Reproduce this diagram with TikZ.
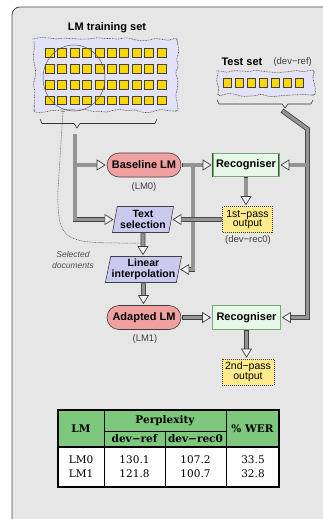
\documentclass[tikz,border=0pt]{standalone}
\usepackage{fontspec}
\setsansfont{Liberation Sans}
\newfontfamily\tabfont{DejaVu Serif}
\usepackage{tikz}
\usetikzlibrary{arrows.meta,shapes.geometric,decorations.pathmorphing,positioning}
\definecolor{greyBG}{HTML}{E6E6E6}
\definecolor{redLM}{HTML}{F0A0A0}
\definecolor{greenRecFill}{HTML}{E8F8E8}
\definecolor{greenRecLine}{HTML}{2E5A2E}
\definecolor{greenRecMid}{HTML}{7AA87A}
\definecolor{lilacSel}{HTML}{CACAF0}
\definecolor{lilacDoc}{HTML}{E2E2F8}
\definecolor{yellowDoc}{HTML}{FFD700}
\definecolor{yellowOut}{HTML}{FFEB8C}
\definecolor{greenTab}{HTML}{7DC87D}

\begin{document}
\begin{tikzpicture}[x=1pt,y=-1pt,
    pipe/.style={draw=black!75,line width=0.8pt,double=black!42,double distance=3.2pt,
      -{Triangle[length=9pt,width=11pt,line width=0.7pt,fill=black!6]}},
    pipestart/.style={line cap=rect},
    lmbox/.style={draw=black!75,line width=0.6pt,fill=redLM,rounded corners=12pt,
      minimum width=74pt,minimum height=24pt,inner sep=1pt,font=\sffamily\bfseries\fontsize{11}{12}\selectfont},
    recbox/.style={draw=greenRecLine,line width=0.7pt,double=greenRecMid,double distance=0.5pt,
      fill=greenRecFill,minimum width=66pt,minimum height=23pt,inner sep=1pt,
      font=\sffamily\bfseries\fontsize{11}{12}\selectfont},
    selbox/.style={trapezium,trapezium left angle=77,trapezium right angle=103,
      trapezium stretches body,draw=black!75,line width=0.6pt,fill=lilacSel,
      minimum height=26pt,inner sep=1pt,align=center,
      font=\sffamily\bfseries\fontsize{10.5}{11}\selectfont},
    outbox/.style={draw=black!75,line width=0.6pt,dash pattern=on 1pt off 1pt,fill=yellowOut,
      minimum width=50pt,minimum height=26pt,inner sep=0.5pt,align=center,
      font=\sffamily\fontsize{10.5}{9.5}\selectfont},
    tag/.style={font=\sffamily\fontsize{9.5}{11}\selectfont,text=black!75},
    title/.style={font=\sffamily\bfseries\fontsize{11}{12}\selectfont},
    doc/.style={draw=black!75,line width=0.6pt,fill=yellowDoc},
    cloud/.style={decorate,decoration={random steps,segment length=7pt,amplitude=1.8pt},
      rounded corners=2.5pt,fill=lilacDoc,draw=black!70,line width=0.6pt,dash pattern=on 0.8pt off 0.8pt},
    brace/.style={draw=black!80,line width=0.6pt},
    tabhead/.style={font=\tabfont\bfseries\fontsize{10.5}{12}\selectfont},
    tabcell/.style={font=\tabfont\fontsize{10.5}{14.5}\selectfont}]
  \useasboundingbox (0,0) rectangle (323,519);
  \clip (0,0) rectangle (323,519);
  \draw[fill=greyBG,draw=black!70,line width=0.8pt,rounded corners=8pt] (12,7) rectangle (345,545);

  % training and test sets
  \pgfmathsetseed{7}
  \node[title] (trainT) at (107,28) {LM training set};
  \path[cloud] (34,39) rectangle (177,111);
  \foreach \i in {0,...,9}
    \foreach \j in {0,...,3}
      \draw[doc] (45+12.45*\i,48.5+15.9*\j) rectangle ++(9,8.5);
  \draw[black!65,line width=0.5pt] (74,78) ellipse [x radius=31pt,y radius=33pt];
  \draw[brace] (40,119) -- (42,123.5) -- (74,123.5) -- (77,128) -- (80,123.5) -- (155,123.5) -- (157,119);

  \node[title,anchor=west] (testT) at (218,62) {Test set};
  \node[tag,anchor=west] (testR) at (270,62.5) {(dev−ref)};
  \path[cloud] (218,71) rectangle (314,95);
  \foreach \i in {0,...,6}
    \draw[doc] (223+12*\i,78) rectangle ++(8.5,9);
  \draw[brace] (217,100) -- (219,104) -- (282,104) -- (285,108) -- (288,104) -- (311,104) -- (313,100);

  % blocks
  \node[lmbox] (base) at (144,165) {Baseline LM};
  \node[tag] (lm0) at (144,187) {(LM0)};
  \node[recbox] (rec1) at (246,165) {Recogniser};
  \node[outbox] (pass1) at (247.5,219.5) {1st−pass\\output};
  \node[tag] (rec0) at (248,240.5) {(dev−rec0)};
  \node[selbox,minimum width=61pt] (textsel) at (143,219.5) {Text\\selection};
  \node[selbox,minimum width=65pt] (interp) at (143.5,269.5) {Linear\\interpolation};
  \node[lmbox] (adapt) at (144,317.5) {Adapted LM};
  \node[tag] (lm1) at (145,339) {(LM1)};
  \node[recbox,minimum width=68pt,minimum height=24pt] (rec2) at (246.5,317.5) {Recogniser};
  \node[outbox,minimum width=52pt] (pass2) at (248,372) {2nd−pass\\output};

  % selected documents
  \coordinate (ellbot) at (63,111);
  \coordinate (seldocs) at (141,243);
  \draw[black!70,line width=0.5pt,dash pattern=on 0.8pt off 0.8pt,{Bar[width=4pt,line width=0.5pt]}-{Bar[width=4pt,line width=0.5pt]}]
    (ellbot) -- (58,190) .. controls (57,245) and (65,243) .. (seldocs);
  \node[align=center,font=\sffamily\itshape\fontsize{8.5}{11}\selectfont,text=black!70] (selT) at (73,259.5) {Selected\\documents};

  % pipes
  \coordinate (trainpipe) at (75,136);
  \draw[pipe,pipestart,shorten >=1pt] (trainpipe) |- (textsel.west);
  \draw[pipe,shorten >=1pt] ([xshift=1.6pt]trainpipe |- base.west) -- (base.west);
  \draw[pipe,pipestart,shorten <=3pt,shorten >=1pt] (base) -- (rec1);
  \coordinate (basejoin) at (193,165);
  \draw[pipe,shorten >=1pt] ([yshift=-1.6pt]basejoin) |- (interp.east);
  \draw[pipe,pipestart,shorten <=3pt,shorten >=1pt] (rec1) -- (rec1 |- pass1.north);
  \draw[pipe,pipestart,shorten <=3pt,shorten >=1pt] (pass1) -- (textsel);
  \draw[pipe,pipestart,shorten <=3pt,shorten >=1pt] (textsel) -- (textsel |- interp.north);
  \draw[pipe,pipestart,shorten <=3pt,shorten >=1pt] (interp) -- (interp |- adapt.north);
  \draw[pipe,pipestart,shorten <=3pt,shorten >=1pt] (adapt) -- (rec2);
  \draw[pipe,pipestart,shorten <=3pt,shorten >=1pt] (rec2) -- (rec2 |- pass2.north);
  \coordinate (testpipe) at (284,112);
  \coordinate (testbend) at (307.5,129);
  \draw[pipe,pipestart,shorten >=1pt] (testpipe) -- (testbend) |- (rec2.east);
  \draw[pipe,shorten >=1pt] ([xshift=-1.6pt]testbend |- rec1.east) -- (rec1.east);

  % results table
  \fill[greenTab] (58,410) rectangle (279,447);
  \fill[white] (58,447) rectangle (279,487);
  \draw[line width=0.7pt] (104,410) -- (104,487) (226,410) -- (226,487)
    (165,431) -- (165,487) (104,431) -- (226,431);
  \draw[line width=1.3pt] (58,447) -- (279,447);
  \draw[line width=1.6pt] (58,410) rectangle (279,487);
  \node[tabhead] (hLM) at (81,428.5) {LM};
  \node[tabhead] (hPerp) at (165,420.5) {Perplexity};
  \node[tabhead] (hRef) at (134.5,439) {dev−ref};
  \node[tabhead] (hRec) at (195.5,439) {dev−rec0};
  \node[tabhead] (hWER) at (252.5,428.5) {\% WER};
  \node[tabcell,align=center] (cLM) at (81,466.5) {LM0\\LM1};
  \node[tabcell,align=center] (cRef) at (134.5,466.5) {130.1\\121.8};
  \node[tabcell,align=center] (cRec) at (195.5,466.5) {107.2\\100.7};
  \node[tabcell,align=center] (cWER) at (253,466.5) {33.5\\32.8};
\end{tikzpicture}
\end{document}
